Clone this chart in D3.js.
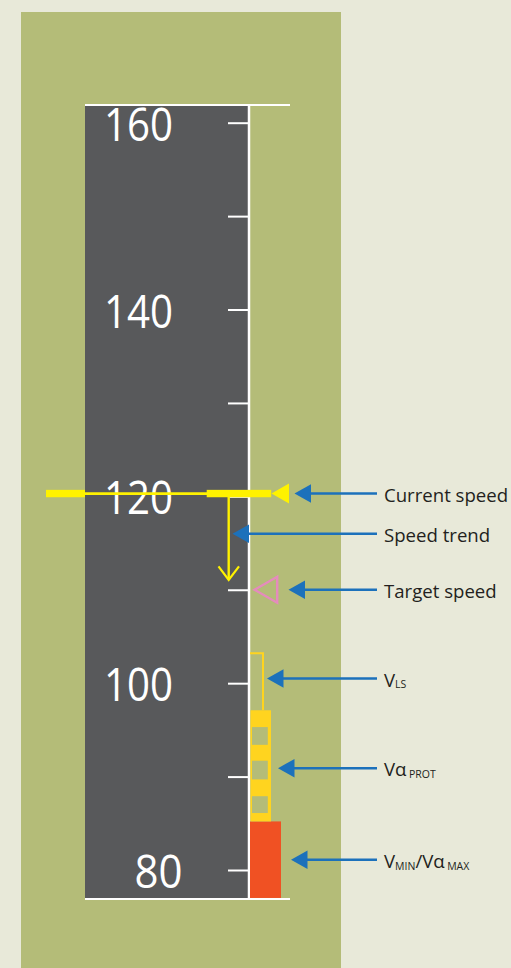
<!DOCTYPE html>
<html>
<head>
<meta charset="utf-8">
<script src="https://cdn.jsdelivr.net/npm/d3@7"></script>
<style>
  html, body { margin: 0; padding: 0; background: #e8e9d9; }
  svg { display: block; }
</style>
</head>
<body>
<div id="chart"></div>
<script>
// ---------- data (knots) ----------
const tickValues   = [160, 150, 140, 130, 120, 110, 100, 90, 80];
const labelValues  = [160, 140, 120, 100, 80];
const tapeExtent   = [161.9, 76.9];
const currentSpeed = 120.3;
const speedTrend   = 111.0;
const targetSpeed  = 110.0;
const vLS          = 103.2;
const vAlphaProt   = 97.1;
const vAlphaMax    = 85.2;
const protGaps     = [[95.3, 93.4], [91.7, 89.7], [87.9, 86.1]];
const annotationNames  = ["current", "trend", "target", "vls", "prot", "vmin"];
const annotationSpeeds = [120.3, 116.0, 110.0, 100.5, 90.9, 81.1];
const annotationTexts  = [
  [{t: "Current speed"}],
  [{t: "Speed trend"}],
  [{t: "Target speed"}],
  [{t: "V"}, {t: "LS", sub: true}],
  [{t: "V\u03B1"}, {t: "PROT", sub: true}],
  [{t: "V"}, {t: "MIN", sub: true}, {t: "/V\u03B1"}, {t: "MAX", sub: true}]
];

// ---------- layout / style ----------
const W = 511, H = 968;
const C = {
  bg: "#e8e9d9", green: "#b4bc78", tape: "#58595b", white: "#ffffff",
  yellow: "#fff200", gold: "#ffd41f", red: "#f05123", pink: "#e58bbd",
  blue: "#1c71bb", text: "#231f20"
};
const tapeLeft = 85, tapeLineX = 249, lineRight = 290;
const tipX = {current: 294.5, trend: 232.5, target: 288.5, vls: 267, prot: 278, vmin: 291};
const arrowEnd = 377, textX = 384;
const font = "'Open Sans', sans-serif";

const svg = d3.select("#chart").append("svg").attr("width", W).attr("height", H);

const y = d3.scaleLinear().domain([160, 80]).range([122.7, 870]);

// backgrounds
svg.append("rect").attr("x", 0).attr("y", 0).attr("width", W).attr("height", H).attr("fill", C.bg);
svg.append("rect").attr("x", 21).attr("y", 12).attr("width", 320).attr("height", H - 12).attr("fill", C.green);

// tape
svg.append("rect")
  .attr("x", tapeLeft).attr("y", y(tapeExtent[0]))
  .attr("width", tapeLineX - tapeLeft).attr("height", y(tapeExtent[1]) - y(tapeExtent[0]))
  .attr("fill", C.tape);

// ticks via axis
const axis = d3.axisLeft(y).tickValues(tickValues).tickSize(21).tickSizeOuter(0).tickFormat("");
const gAxis = svg.append("g").attr("transform", `translate(${tapeLineX},0)`).call(axis);
gAxis.select(".domain").remove();
gAxis.selectAll(".tick line").attr("stroke", C.white).attr("stroke-width", 2);

// speed labels
svg.append("g").selectAll("text").data(labelValues).join("text")
  .attr("x", d => String(d).length === 3 ? 104 : 134.5)
  .attr("y", d => y(d) + 18)
  .attr("textLength", d => String(d).length === 3 ? 69 : 48)
  .attr("lengthAdjust", "spacingAndGlyphs")
  .attr("font-family", font).attr("font-size", 45).attr("fill", C.white)
  .text(d => d);

// vertical + top/bottom lines
svg.append("line").attr("x1", tapeLineX).attr("x2", tapeLineX)
  .attr("y1", y(tapeExtent[0])).attr("y2", y(tapeExtent[1]))
  .attr("stroke", C.white).attr("stroke-width", 2.5);
svg.append("g").selectAll("line").data(tapeExtent).join("line")
  .attr("x1", tapeLeft).attr("x2", lineRight)
  .attr("y1", d => y(d)).attr("y2", d => y(d))
  .attr("stroke", C.white).attr("stroke-width", 2);

// Vmin / Valpha max red band
svg.append("rect")
  .attr("x", 250).attr("y", y(vAlphaMax))
  .attr("width", 31).attr("height", y(tapeExtent[1]) - 1 - y(vAlphaMax))
  .attr("fill", C.red);

// Valpha prot strip
svg.append("rect")
  .attr("x", 250.5).attr("y", y(vAlphaProt))
  .attr("width", 20.5).attr("height", y(vAlphaMax) - y(vAlphaProt))
  .attr("fill", C.gold);
svg.append("g").selectAll("rect").data(protGaps).join("rect")
  .attr("x", 252).attr("y", d => y(d[0]))
  .attr("width", 15.8).attr("height", d => y(d[1]) - y(d[0]))
  .attr("fill", C.green);

// VLS bracket
svg.append("path")
  .attr("d", `M${tapeLineX + 1},${y(vLS)} H263 V${y(vAlphaProt)}`)
  .attr("fill", "none").attr("stroke", C.gold).attr("stroke-width", 2);

// current speed
const yc = y(currentSpeed);
svg.append("line").attr("x1", 46).attr("x2", 210).attr("y1", yc).attr("y2", yc)
  .attr("stroke", C.yellow).attr("stroke-width", 2.7);
svg.append("rect").attr("x", 46).attr("y", yc - 3.7).attr("width", 39).attr("height", 7.4).attr("fill", C.yellow);
svg.append("rect").attr("x", 206.7).attr("y", yc - 3.7).attr("width", 64.5).attr("height", 7.4).attr("fill", C.yellow);
svg.append("path").attr("d", `M271.5,${yc} L289,${yc - 10} L289,${yc + 10} Z`).attr("fill", C.yellow);

// speed trend
const yt = y(speedTrend);
svg.append("line").attr("x1", 228.7).attr("x2", 228.7).attr("y1", yc + 3).attr("y2", yt - 1)
  .attr("stroke", C.yellow).attr("stroke-width", 2.4);
svg.append("path").attr("d", `M218.5,${yt - 14} L228.7,${yt - 0.5} L239,${yt - 14}`)
  .attr("fill", "none").attr("stroke", C.yellow).attr("stroke-width", 2.2);

// target speed
const yg = y(targetSpeed);
svg.append("path").attr("d", `M254.5,${yg} L277.2,${yg - 13} L277.2,${yg + 13} Z`)
  .attr("fill", "none").attr("stroke", C.pink).attr("stroke-width", 2.4).attr("stroke-linejoin", "miter");

// annotations
const ann = annotationNames.map((n, i) => ({name: n, v: annotationSpeeds[i], parts: annotationTexts[i]}));
const ga = svg.append("g").selectAll("g").data(ann).join("g");
ga.append("line")
  .attr("x1", d => tipX[d.name] + 14).attr("x2", arrowEnd)
  .attr("y1", d => y(d.v)).attr("y2", d => y(d.v))
  .attr("stroke", C.blue).attr("stroke-width", 2.5);
ga.append("path")
  .attr("d", d => { const t = tipX[d.name], yy = y(d.v); return `M${t},${yy} L${t + 16.5},${yy - 9.3} L${t + 16.5},${yy + 9.3} Z`; })
  .attr("fill", C.blue);
const txt = ga.append("text")
  .attr("x", textX).attr("y", d => y(d.v) + 8)
  .attr("font-family", font).attr("font-size", 18.6).attr("fill", C.text);
txt.each(function(d) {
  const t = d3.select(this);
  d.parts.forEach((p, i) => {
    const ts = t.append("tspan").text(p.t);
    if (p.sub) {
      ts.attr("font-size", 10.5).attr("dy", 1.8);
      if (i > 0 && d.parts[i - 1].t.endsWith("\u03B1")) ts.attr("dx", 2.5);
    } else if (i > 0 && d.parts[i - 1].sub) {
      ts.attr("dy", -1.8);
    }
  });
});
</script>
</body>
</html>
